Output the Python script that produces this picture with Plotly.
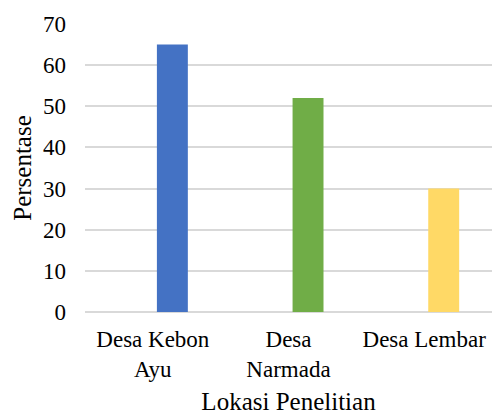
import plotly.graph_objects as go

# Survey locations and percentage values
locations = ["Desa Kebon Ayu", "Desa Narmada", "Desa Lembar"]
tick_labels = ["Desa Kebon<br>Ayu", "Desa<br>Narmada", "Desa Lembar"]
percent = [65, 52, 30]
bar_colors = ["#4472C4", "#70AD47", "#FFD966"]

y_ticks = [0, 10, 20, 30, 40, 50, 60, 70]

FONT = "Liberation Serif, Times New Roman, serif"

fig = go.Figure(
    go.Bar(
        x=locations,
        y=percent,
        marker=dict(color=bar_colors, line=dict(width=0)),
        width=0.228,
        offset=0.03,
        showlegend=False,
    )
)

fig.update_layout(
    width=492,
    height=415,
    margin=dict(l=85, r=0, t=24, b=103),
    paper_bgcolor="white",
    plot_bgcolor="white",
    font=dict(family=FONT, color="#000000", size=23),
)

fig.update_xaxes(
    type="category",
    tickmode="array",
    tickvals=locations,
    ticktext=tick_labels,
    showgrid=False,
    showline=False,
    zeroline=False,
    ticks="",
    ticklabelstandoff=11,
    tickfont=dict(size=23),
    title=dict(text="Lokasi Penelitian", font=dict(size=25), standoff=12),
    automargin=False,
)

fig.update_yaxes(
    range=[0, 70],
    tickmode="array",
    tickvals=y_ticks,
    showgrid=True,
    gridcolor="#D9D9D9",
    gridwidth=1.5,
    zeroline=True,
    zerolinecolor="#D9D9D9",
    zerolinewidth=1.5,
    showline=False,
    ticks="",
    ticklabelstandoff=18,
    tickfont=dict(size=23),
    title=dict(text="Persentase", font=dict(size=25), standoff=4),
    automargin=False,
)

fig.write_html("out.html")
